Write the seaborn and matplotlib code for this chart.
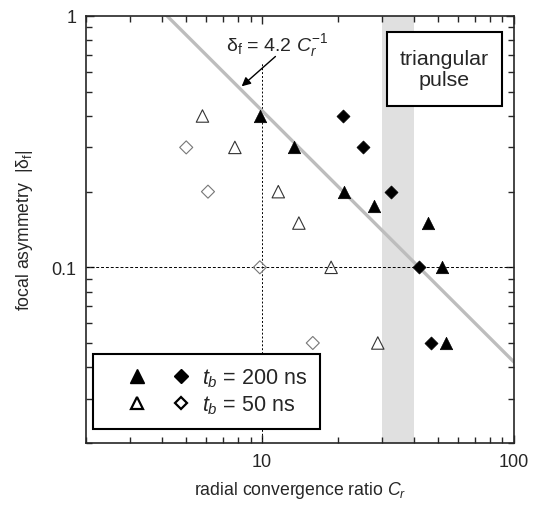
import numpy as np
import pandas as pd
import matplotlib
matplotlib.use('Agg')
import matplotlib.pyplot as plt
import seaborn as sns
from matplotlib.lines import Line2D
from matplotlib.patches import Rectangle
from matplotlib.legend_handler import HandlerTuple
from matplotlib.ticker import FixedLocator, LogLocator, NullFormatter

# t_b = 200 ns (filled markers)
tri200_cr = [9.8, 13.4, 21.1, 27.7, 45.7, 51.8, 53.6]
tri200_df = [0.40, 0.30, 0.20, 0.175, 0.15, 0.10, 0.05]
dia200_cr = [21.0, 25.1, 32.5, 41.9, 46.7]
dia200_df = [0.40, 0.30, 0.20, 0.10, 0.05]

# t_b = 50 ns (open markers)
tri50_cr = [5.8, 7.8, 11.6, 14.0, 18.8, 28.8]
tri50_df = [0.40, 0.30, 0.20, 0.15, 0.10, 0.05]
dia50_cr = [5.0, 6.1, 9.8, 15.9]
dia50_df = [0.30, 0.20, 0.10, 0.05]

# fitted scaling delta_f = 4.2 / C_r
fit_coef = 4.2
fit_cr = np.array([2.0, 100.0])
band_cr = [30, 40]

sns.set_style('ticks')
plt.rcParams['font.family'] = ['Liberation Sans', 'DejaVu Sans']
plt.rcParams['mathtext.fontset'] = 'custom'
plt.rcParams['mathtext.rm'] = 'Liberation Sans'
plt.rcParams['mathtext.it'] = 'Liberation Sans:italic'
plt.rcParams['axes.linewidth'] = 1.2

fig = plt.figure(figsize=(5.35, 5.1), dpi=100)
ax = fig.add_axes([0.1607, 0.1294, 0.8, 0.8373])
ax.set_xscale('log')
ax.set_yscale('log')
ax.set_xlim(2, 100)
ax.set_ylim(0.02, 1)

ax.axvspan(band_cr[0], band_cr[1], color='#e0e0e0', lw=0, zorder=0)
ax.axhline(0.1, color='black', lw=0.7, ls=(0, (3, 2)), zorder=1)
ax.plot([10, 10], [0.02, 0.65], color='black', lw=0.7, ls=(0, (2, 2)), zorder=1)
ax.plot(fit_cr, fit_coef / fit_cr, color='#bdbdbd', lw=2.4, zorder=2)

groups = [
    (tri50_cr, tri50_df, '^', 'none', '#333333', 0.8, 80),
    (dia50_cr, dia50_df, 'D', 'none', '#777777', 0.8, 44),
    (tri200_cr, tri200_df, '^', 'black', 'black', 0.5, 80),
    (dia200_cr, dia200_df, 'D', 'black', 'black', 0.5, 44),
]
for xs, ys, mk, fc, ec, lw, s in groups:
    df = pd.DataFrame({'cr': xs, 'df': ys})
    sns.scatterplot(data=df, x='cr', y='df', marker=mk, s=s, facecolor=fc,
                    edgecolor=ec, linewidth=lw, ax=ax, zorder=3, legend=False)

ax.text(11.5, 0.731, r'δ$_\mathrm{f}$ = 4.2 $C_r^{-1}$', ha='center', va='baseline',
        fontsize=14)
ax.annotate('', xy=(8.3, 0.525), xytext=(11.3, 0.69),
            arrowprops=dict(arrowstyle='-|>', color='black', lw=1.0,
                            mutation_scale=13, shrinkA=0, shrinkB=0))

# label box "triangular pulse"
ax.add_patch(Rectangle((0.703, 0.789), 0.269, 0.1735, transform=ax.transAxes,
                       fc='white', ec='black', lw=1.5, zorder=4))
ax.text(0.8375, 0.876, 'triangular\npulse', transform=ax.transAxes,
        ha='center', va='center', fontsize=15.4, linespacing=1.1, zorder=5)

ax.xaxis.set_major_locator(FixedLocator([10, 100]))
ax.yaxis.set_major_locator(FixedLocator([0.1, 1]))
ax.xaxis.set_minor_locator(LogLocator(base=10, subs=np.arange(2, 10)))
ax.yaxis.set_minor_locator(LogLocator(base=10, subs=np.arange(2, 10)))
ax.xaxis.set_minor_formatter(NullFormatter())
ax.yaxis.set_minor_formatter(NullFormatter())
ax.set_xticklabels(['10', '100'])
ax.set_yticklabels(['0.1', '1'])
ax.tick_params(which='both', direction='in', top=True, right=True,
               labelsize=13, width=1.0, pad=7)
ax.tick_params(which='major', length=6)
ax.tick_params(which='minor', length=4)

ax.set_xlabel(r'radial convergence ratio $C_r$', fontsize=12.7, labelpad=7)
ax.set_ylabel(r'focal asymmetry  |δ$_\mathrm{f}$|', fontsize=12.7, labelpad=12)

h200 = (Line2D([], [], marker='^', ls='none', color='black', ms=10),
        Line2D([], [], marker='D', ls='none', color='black', ms=7))
h50 = (Line2D([], [], marker='^', ls='none', mfc='none', mec='black', mew=1.6, ms=9),
       Line2D([], [], marker='D', ls='none', mfc='none', mec='black', mew=1.6, ms=6.5))
leg = ax.legend([h200, h50], [r'$t_b$ = 200 ns', r'$t_b$ = 50 ns'],
                handler_map={tuple: HandlerTuple(ndivide=None, pad=0.49, xpad=0.66)},
                loc='lower left', bbox_to_anchor=(0.017, 0.033), fontsize=15.5,
                handlelength=4.26, handletextpad=0.2, borderpad=0.6,
                labelspacing=0.2, borderaxespad=0, fancybox=False,
                framealpha=1, edgecolor='black')
leg.get_frame().set_linewidth(1.5)

fig.savefig('out.png', dpi=100)
